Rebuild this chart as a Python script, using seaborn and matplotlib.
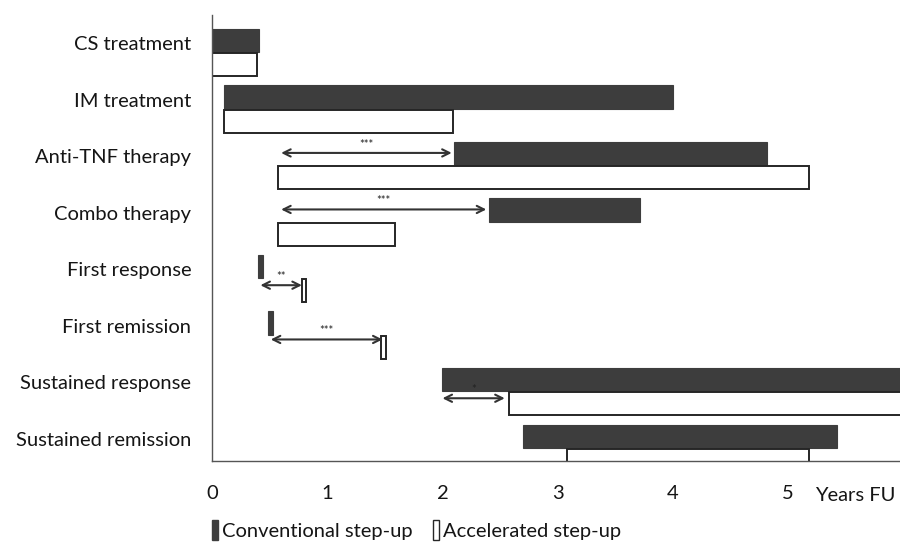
import matplotlib
matplotlib.use("Agg")
import matplotlib.pyplot as plt
from matplotlib.patches import Patch
import numpy as np
import seaborn as sns

# Data (years of follow-up)
categories = [
    "CS treatment", "IM treatment", "Anti-TNF therapy", "Combo therapy",
    "First response", "First remission", "Sustained response", "Sustained remission",
]
conv_start = [0.00, 0.10, 2.10, 2.40, 0.42, 0.51, 2.00, 2.70]
conv_end = [0.41, 4.00, 4.82, 3.71, np.nan, np.nan, 6.30, 5.42]   # nan = single event
acc_start = [0.00, 0.10, 0.57, 0.57, 0.80, 1.49, 2.58, 3.08]
acc_end = [0.39, 2.09, 5.18, 1.59, np.nan, np.nan, 6.30, 5.18]

gap_rows = ["Anti-TNF therapy", "Combo therapy", "First response", "First remission", "Sustained response"]
gap_from = [0.60, 0.60, 0.42, 0.51, 2.00]
gap_to = [2.08, 2.38, 0.78, 1.48, 2.54]
gap_stars = ["***", "***", "**", "***", "*"]

x_ticks = [0, 1, 2, 3, 4, 5]
x_unit = "Years FU"
series_labels = ["Conventional step-up", "Accelerated step-up"]

# Layout / style
DARK = "#3d3d3d"
EDGE = "#262626"
TEXT = "#151515"
FS = 14.5
BAR_H = 0.41
CONV_OFF = -0.05
ACC_OFF = 0.38
EVENT_W = 0.04
GAP_OFF = {"Anti-TNF therapy": -0.06, "Combo therapy": -0.06, "First response": 0.28,
           "First remission": 0.24, "Sustained response": 0.28}

sns.set_style("white")
plt.rcParams["font.family"] = ["Lato", "DejaVu Sans"]

fig = plt.figure(figsize=(9, 5.45), dpi=100)
ax = fig.add_axes([212 / 900, 1 - 461 / 545, 1 - 212 / 900, (461 - 15) / 545])

rows = np.arange(len(categories))


def spans(start, end):
    start = np.asarray(start, float)
    end = np.asarray(end, float)
    width = np.where(np.isnan(end), EVENT_W, end - start)
    left = np.where(np.isnan(end), start - EVENT_W / 2, start)
    return left, width


left, width = spans(conv_start, conv_end)
ax.barh(rows + CONV_OFF, width, left=left, height=BAR_H, color=DARK,
        edgecolor=DARK, linewidth=0.8, zorder=2)
left, width = spans(acc_start, acc_end)
ax.barh(rows + ACC_OFF, width, left=left, height=BAR_H, color="white",
        edgecolor=EDGE, linewidth=1.4, zorder=2)

for name, x0, x1, stars in zip(gap_rows, gap_from, gap_to, gap_stars):
    y = categories.index(name) + GAP_OFF[name]
    ax.annotate("", xy=(x1, y), xytext=(x0, y),
                arrowprops=dict(arrowstyle="<->", color="#333333", lw=1.5,
                                mutation_scale=13, shrinkA=0, shrinkB=0), zorder=3)
    ax.text((x0 + x1) / 2, y - 0.06, stars, ha="center", va="bottom",
            fontsize=8, color="#222222", zorder=3)

ax.set_xlim(0, 5.97)
ax.set_ylim(7.39, -0.5)
ax.set_xticks(x_ticks)
ax.set_xticklabels([str(t) for t in x_ticks])
ax.set_yticks(rows)
ax.set_yticklabels(categories)
ax.tick_params(axis="both", length=0, labelsize=FS, colors=TEXT)
ax.tick_params(axis="x", pad=17)
ax.tick_params(axis="y", pad=15)

ax.annotate(x_unit, xy=(1.0, 0), xycoords="axes fraction", xytext=(-3, -25),
            textcoords="offset points", ha="right", va="center", fontsize=FS,
            color=TEXT)

for side in ["top", "right"]:
    ax.spines[side].set_visible(False)
for side in ["left", "bottom"]:
    ax.spines[side].set_color("#555555")
    ax.spines[side].set_linewidth(1.0)

handles = [
    Patch(facecolor=DARK, edgecolor=DARK, label=series_labels[0]),
    Patch(facecolor="white", edgecolor=EDGE, linewidth=1.0, label=series_labels[1]),
]
fig.legend(handles=handles, loc="center", bbox_to_anchor=(0.463, 1 - 530 / 545),
           ncol=2, frameon=False, fontsize=FS, handlelength=0.3, handleheight=1.1,
           handletextpad=0.2, columnspacing=1.0, labelcolor=TEXT)

fig.savefig("out.png", dpi=100)
plt.close(fig)
